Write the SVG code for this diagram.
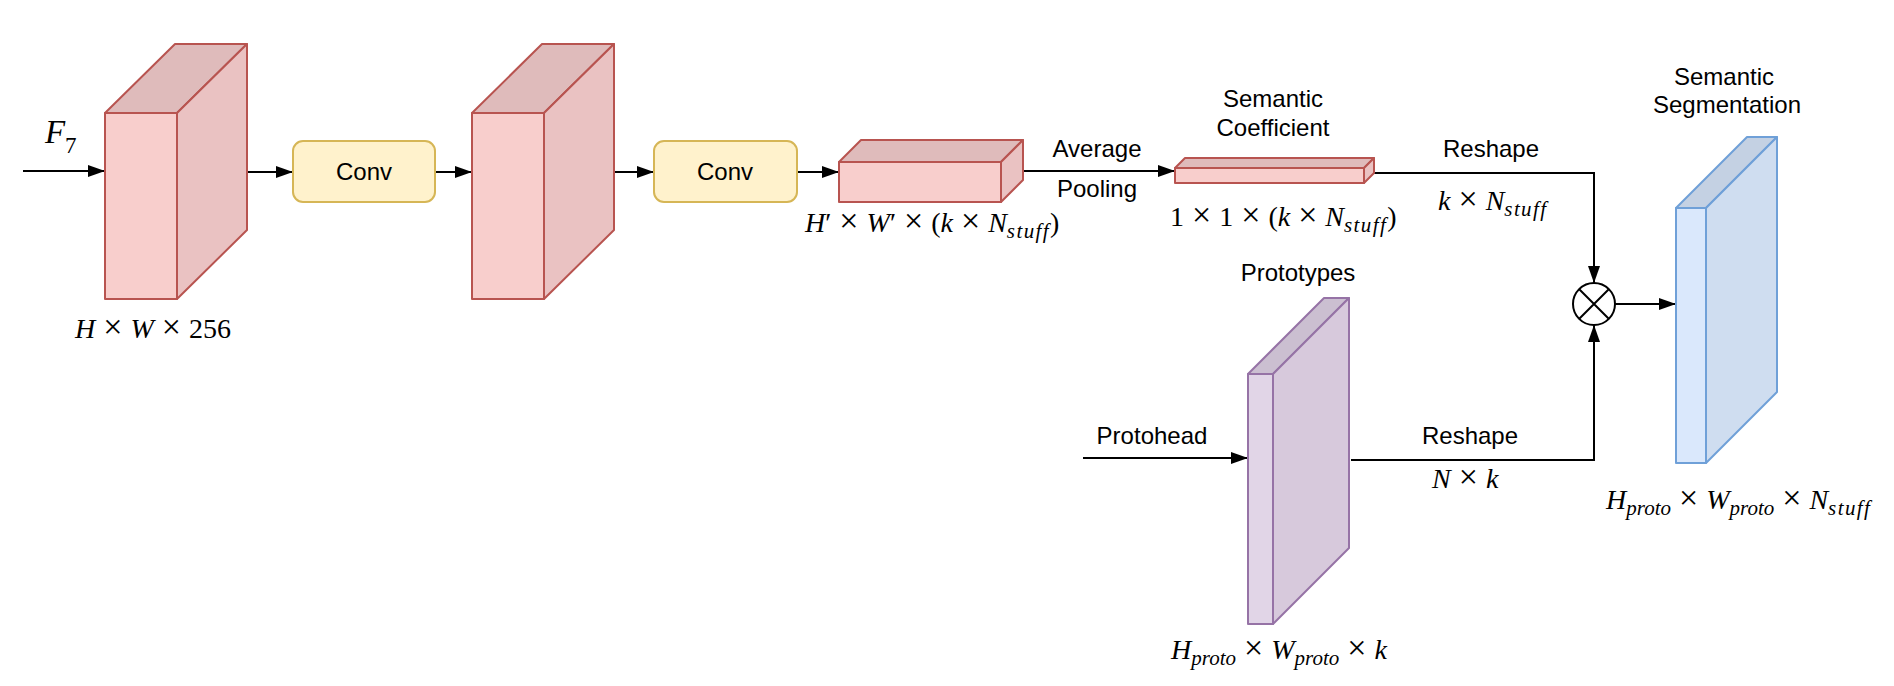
<svg xmlns="http://www.w3.org/2000/svg" width="1894" height="686" viewBox="0 0 1894 686">
<style>
.red .f{fill:#f8cecc;stroke:#b85450;stroke-width:2;stroke-linejoin:round}
.red .t{fill:#dfbbbb;stroke:#b85450;stroke-width:2;stroke-linejoin:round}
.red .r{fill:#eac2c2;stroke:#b85450;stroke-width:2;stroke-linejoin:round}
.pur .f{fill:#e1d5e7;stroke:#9673a6;stroke-width:2;stroke-linejoin:round}
.pur .t{fill:#cbbfd1;stroke:#9673a6;stroke-width:2;stroke-linejoin:round}
.pur .r{fill:#d7c9dc;stroke:#9673a6;stroke-width:2;stroke-linejoin:round}
.blu .f{fill:#dae8fc;stroke:#6fa0d8;stroke-width:2;stroke-linejoin:round}
.blu .t{fill:#c4d1e3;stroke:#6fa0d8;stroke-width:2;stroke-linejoin:round}
.blu .r{fill:#cfddf0;stroke:#6fa0d8;stroke-width:2;stroke-linejoin:round}
.conv{fill:#fff2cc;stroke:#d6b656;stroke-width:2}
.lbl{font-family:"Liberation Sans",Arial,Helvetica,sans-serif;font-size:24px;fill:#000;text-anchor:middle}
.m{font-family:"Liberation Serif","Times New Roman",serif;font-size:28px;fill:#000;word-spacing:1px}
.i{font-style:italic}
.x{font-size:34px}
.s{font-style:italic;font-size:21px}
.st{font-style:italic;font-size:21px;letter-spacing:1.4px}
.edge{fill:none;stroke:#000;stroke-width:2}
</style>
<defs>
<marker id="ar" markerUnits="userSpaceOnUse" markerWidth="18" markerHeight="12" refX="17" refY="6" orient="auto">
<path d="M0,0 L17,6 L0,12 Z" fill="#000"/>
</marker>
</defs>

<g id="connectors">
<path class="edge" d="M23,171 L105,171" marker-end="url(#ar)"/>
<path class="edge" d="M247,172 L293,172" marker-end="url(#ar)"/>
<path class="edge" d="M435,172 L472,172" marker-end="url(#ar)"/>
<path class="edge" d="M614,172 L654,172" marker-end="url(#ar)"/>
<path class="edge" d="M797,172 L839,172" marker-end="url(#ar)"/>
<path class="edge" d="M1023,171 L1175,171" marker-end="url(#ar)"/>
<path class="edge" d="M1374,173 L1594,173 L1594,283" marker-end="url(#ar)"/>
<path class="edge" d="M1083,458 L1248,458" marker-end="url(#ar)"/>
<path class="edge" d="M1351,460 L1594,460 L1594,325" marker-end="url(#ar)"/>
<path class="edge" d="M1615,304 L1676,304" marker-end="url(#ar)"/>
</g>

<g id="input-label">
<text class="m" y="143"><tspan class="i" x="45" font-size="33">F</tspan><tspan x="65" y="153" font-size="23">7</tspan></text>
</g>

<g id="cube1" class="red">
<polygon class="t" points="105,113 175,44 247,44 177,113"/>
<polygon class="r" points="177,113 247,44 247,230 177,299"/>
<rect class="f" x="105" y="113" width="72" height="186"/>
<text class="m" x="75" y="338"><tspan class="i">H</tspan> <tspan class="x">×</tspan> <tspan class="i">W</tspan> <tspan class="x">×</tspan> 256</text>
</g>

<g id="conv1">
<rect class="conv" x="293" y="141" width="142" height="61" rx="10"/>
<text class="lbl" x="364" y="180">Conv</text>
</g>

<g id="cube2" class="red">
<polygon class="t" points="472,113 542,44 614,44 544,113"/>
<polygon class="r" points="544,113 614,44 614,230 544,299"/>
<rect class="f" x="472" y="113" width="72" height="186"/>
</g>

<g id="conv2">
<rect class="conv" x="654" y="141" width="143" height="61" rx="10"/>
<text class="lbl" x="725" y="180">Conv</text>
</g>

<g id="box3" class="red">
<polygon class="t" points="839,162 861,140 1023,140 1001,162"/>
<polygon class="r" points="1001,162 1023,140 1023,180 1001,202"/>
<rect class="f" x="839" y="162" width="162" height="40"/>
<text class="m" x="805" y="232" word-spacing="0"><tspan class="i">H</tspan>′ <tspan class="x">×</tspan> <tspan class="i">W</tspan>′ <tspan class="x">×</tspan> (<tspan class="i">k</tspan> <tspan class="x">×</tspan> <tspan class="i">N</tspan><tspan class="st" dy="6">stuff</tspan><tspan dy="-6">)</tspan></text>
</g>

<g id="pool-label">
<text class="lbl" x="1097" y="157">Average</text>
<text class="lbl" x="1097" y="197">Pooling</text>
</g>

<g id="coef" class="red">
<polygon class="t" points="1175,168 1185,158 1374,158 1364,168"/>
<polygon class="r" points="1364,168 1374,158 1374,173 1364,183"/>
<rect class="f" x="1175" y="168" width="189" height="15"/>
<text class="lbl" x="1273" y="107">Semantic</text>
<text class="lbl" x="1273" y="136">Coefficient</text>
<text class="m" x="1170" y="226" word-spacing="0">1 <tspan class="x">×</tspan> 1 <tspan class="x">×</tspan> (<tspan class="i">k</tspan> <tspan class="x">×</tspan> <tspan class="i">N</tspan><tspan class="st" dy="6">stuff</tspan><tspan dy="-6">)</tspan></text>
</g>

<g id="reshape-top">
<text class="lbl" x="1491" y="157">Reshape</text>
<text class="m" x="1438" y="210"><tspan class="i">k</tspan> <tspan class="x">×</tspan> <tspan class="i">N</tspan><tspan class="st" dy="6">stuff</tspan></text>
</g>

<g id="protohead">
<text class="lbl" x="1152" y="444">Protohead</text>
</g>

<g id="prototypes" class="pur">
<polygon class="t" points="1248,374 1324,298 1349,298 1273,374"/>
<polygon class="r" points="1273,374 1349,298 1349,548 1273,624"/>
<rect class="f" x="1248" y="374" width="25" height="250"/>
<text class="lbl" x="1298" y="281">Prototypes</text>
<text class="m" x="1171" y="659"><tspan class="i">H</tspan><tspan class="s" dy="6">proto</tspan><tspan dy="-6"> </tspan><tspan class="x">×</tspan> <tspan class="i">W</tspan><tspan class="s" dy="6">proto</tspan><tspan dy="-6"> </tspan><tspan class="x">×</tspan> <tspan class="i">k</tspan></text>
</g>

<g id="reshape-bottom">
<text class="lbl" x="1470" y="444">Reshape</text>
<text class="m" x="1432" y="488"><tspan class="i">N</tspan> <tspan class="x">×</tspan> <tspan class="i">k</tspan></text>
</g>

<g id="multiply">
<circle cx="1594" cy="304" r="21" fill="#fff" stroke="#000" stroke-width="2"/>
<path d="M1579,289 L1609,319 M1609,289 L1579,319" stroke="#000" stroke-width="2"/>
</g>

<g id="segmentation" class="blu">
<polygon class="t" points="1676,208 1747,137 1777,137 1706,208"/>
<polygon class="r" points="1706,208 1777,137 1777,392 1706,463"/>
<rect class="f" x="1676" y="208" width="30" height="255"/>
<text class="lbl" x="1724" y="85">Semantic</text>
<text class="lbl" x="1727" y="113">Segmentation</text>
<text class="m" x="1606" y="509"><tspan class="i">H</tspan><tspan class="s" dy="6">proto</tspan><tspan dy="-6"> </tspan><tspan class="x">×</tspan> <tspan class="i">W</tspan><tspan class="s" dy="6">proto</tspan><tspan dy="-6"> </tspan><tspan class="x">×</tspan> <tspan class="i">N</tspan><tspan class="st" dy="6">stuff</tspan></text>
</g>
</svg>
